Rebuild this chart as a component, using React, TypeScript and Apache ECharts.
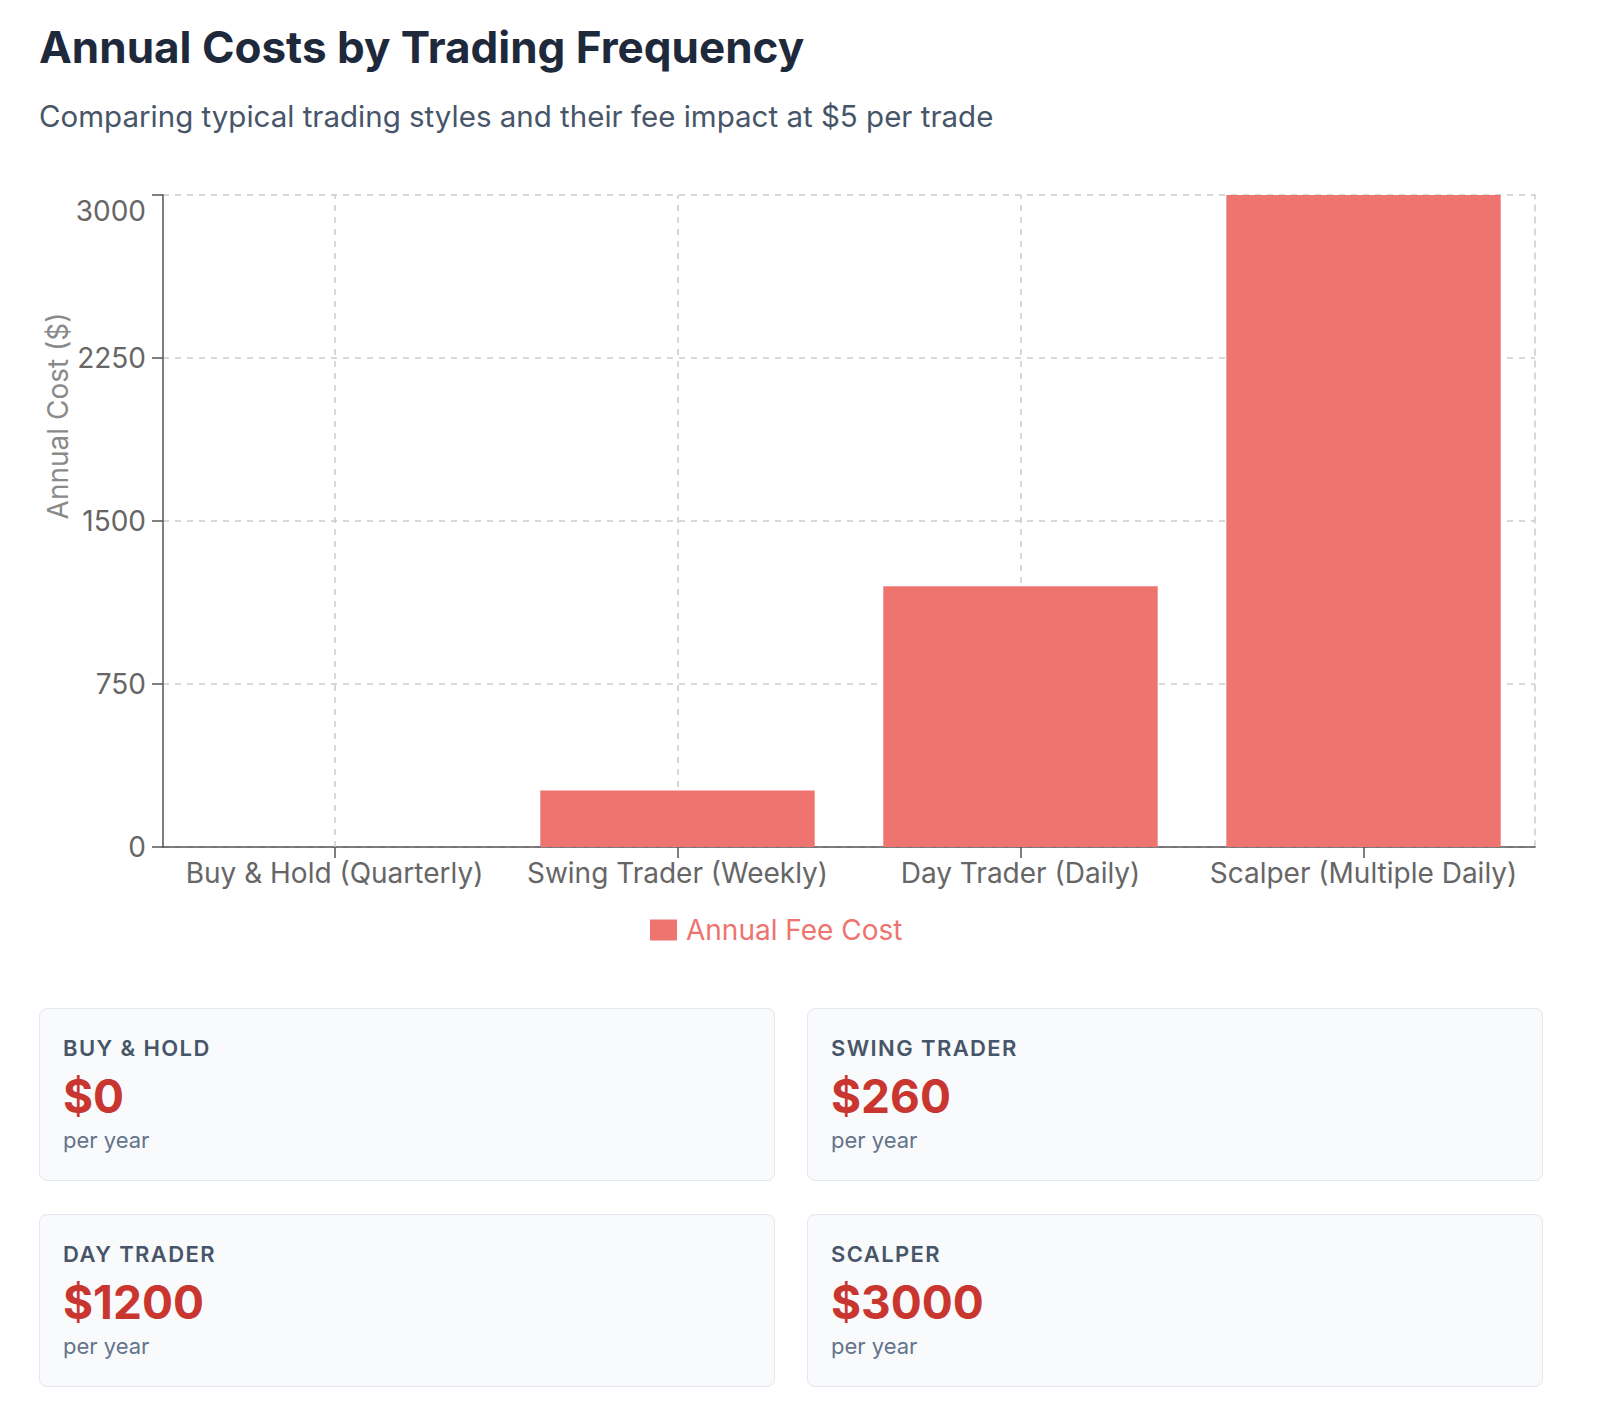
import React, { useEffect, useRef } from "react";
import * as echarts from "echarts";

const categories = [
  "Buy & Hold (Quarterly)",
  "Swing Trader (Weekly)",
  "Day Trader (Daily)",
  "Scalper (Multiple Daily)",
];
const annualCost = [0, 260, 1200, 3000];
const seriesName = "Annual Fee Cost";
const yTicks = { min: 0, max: 3000, interval: 750 };
const cardLabels = ["BUY & HOLD", "SWING TRADER", "DAY TRADER", "SCALPER"];
const cardValues = ["$0", "$260", "$1200", "$3000"];
const cardUnit = "per year";

const BAR = "#ee7470";
const CHART_FONT = 'Inter, "Noto Sans", "Liberation Sans", sans-serif';
const UI_FONT = 'Inter, "Noto Sans", "Liberation Sans", sans-serif';

function Chart() {
  const ref = useRef<HTMLDivElement>(null);
  useEffect(() => {
    if (!ref.current) return;
    const chart = echarts.init(ref.current, null, { renderer: "svg" });
    chart.setOption({
      animation: false,
      textStyle: { fontFamily: CHART_FONT },
      grid: { left: 124, right: 9, top: 35, bottom: 113, containLabel: false },
      legend: {
        data: [seriesName],
        left: 611,
        top: 756,
        padding: 0,
        itemWidth: 27,
        itemHeight: 21,
        icon: "rect",
        textStyle: { color: BAR, fontSize: 28, fontFamily: CHART_FONT, padding: [0, 0, 0, 4] },
      },
      xAxis: {
        type: "category",
        data: categories,
        boundaryGap: true,
        axisLine: { show: true, lineStyle: { color: "#555", width: 1.5 } },
        axisTick: { show: true, alignWithLabel: true, length: 11, lineStyle: { color: "#555", width: 1.5 } },
        axisLabel: { color: "#666", fontSize: 28, margin: 12, interval: 0, fontFamily: CHART_FONT },
        splitLine: { show: false },
      },
      yAxis: [
        {
          type: "value",
          min: yTicks.min,
          max: yTicks.max,
          interval: yTicks.interval,
          axisLine: { show: true, lineStyle: { color: "#555", width: 1.5 } },
          axisTick: { show: true, length: 11, lineStyle: { color: "#555", width: 1.5 } },
          axisLabel: {
            color: "#666",
            fontSize: 28,
            margin: 17,
            fontFamily: CHART_FONT,
            formatter: (v: number) => (v === yTicks.max ? `{top|${v}}` : `${v}`),
            rich: {
              top: { color: "#666", fontSize: 28, fontFamily: CHART_FONT, padding: [32, 0, 0, 0] },
            },
          },
          splitLine: { show: true, lineStyle: { color: "#cccccc", type: [6, 6], width: 1.5 } },
        },
        {
          type: "value",
          position: "right",
          min: yTicks.min,
          max: yTicks.max,
          axisLine: { show: true, lineStyle: { color: "#cccccc", type: [6, 6], width: 1.5 } },
          axisTick: { show: false },
          axisLabel: { show: false },
          splitLine: { show: false },
        },
      ],
      graphic: [
        {
          type: "text",
          x: 19,
          y: 256,
          rotation: Math.PI / 2,
          silent: true,
          style: {
            text: "Annual Cost ($)",
            fill: "#8a8a8a",
            fontSize: 28,
            fontFamily: CHART_FONT,
            textAlign: "center",
            textVerticalAlign: "middle",
          },
        },
      ],
      series: [
        {
          name: "grid-guides",
          type: "line",
          data: annualCost,
          z: 1,
          silent: true,
          symbol: "none",
          lineStyle: { opacity: 0 },
          markLine: {
            z: 1,
            silent: true,
            symbol: ["none", "none"],
            label: { show: false },
            lineStyle: { color: "#cccccc", type: [6, 6], width: 1.5 },
            data: categories.map((c) => ({ xAxis: c })),
          },
        },
        {
          name: seriesName,
          type: "bar",
          data: annualCost,
          z: 3,
          barCategoryGap: "20%",
          itemStyle: { color: BAR },
        },
      ],
    });
    return () => chart.dispose();
  }, []);
  return (
    <div
      ref={ref}
      style={{ position: "absolute", left: 31, top: 152, width: 1505, height: 800 }}
    />
  );
}

function Card({ label, value, left, top }: { label: string; value: string; left: number; top: number }) {
  return (
    <div
      style={{
        position: "absolute",
        left,
        top,
        width: 736,
        height: 173,
        boxSizing: "border-box",
        background: "#f8fafc",
        border: "1.5px solid #e2e8f0",
        borderRadius: 8,
        fontFamily: UI_FONT,
      }}
    >
      <div
        style={{
          position: "absolute",
          left: 23,
          top: 40 - 15 - 1.5,
          lineHeight: "30px",
          fontSize: 22,
          fontWeight: 600,
          letterSpacing: 1.4,
          color: "#475569",
          whiteSpace: "nowrap",
        }}
      >
        {label}
      </div>
      <div
        style={{
          position: "absolute",
          left: 23,
          top: 88 - 28 - 1.5,
          lineHeight: "56px",
          fontSize: 46,
          fontWeight: 700,
          color: "#c9362f",
          whiteSpace: "nowrap",
        }}
      >
        {value}
      </div>
      <div
        style={{
          position: "absolute",
          left: 23,
          top: 132 - 15 - 1.5,
          lineHeight: "30px",
          fontSize: 22,
          fontWeight: 400,
          color: "#64748b",
          whiteSpace: "nowrap",
        }}
      >
        {cardUnit}
      </div>
    </div>
  );
}

export default function App() {
  const positions = [
    { left: 31, top: 1000 },
    { left: 799, top: 1000 },
    { left: 31, top: 1206 },
    { left: 799, top: 1206 },
  ];
  return (
    <div style={{ position: "relative", width: 1584, height: 1400, background: "#fff" }}>
      <div
        style={{
          position: "absolute",
          left: 31,
          top: 13,
          lineHeight: "52px",
          fontSize: 44,
          fontWeight: 700,
          color: "#1e293b",
          fontFamily: UI_FONT,
          whiteSpace: "nowrap",
        }}
      >
        Annual Costs by Trading Frequency
      </div>
      <div
        style={{
          position: "absolute",
          left: 31,
          top: 90,
          lineHeight: "36px",
          fontSize: 29.5,
          fontWeight: 400,
          color: "#475569",
          fontFamily: UI_FONT,
          whiteSpace: "nowrap",
        }}
      >
        Comparing typical trading styles and their fee impact at $5 per trade
      </div>
      <Chart />
      {cardLabels.map((l, i) => (
        <Card key={l} label={l} value={cardValues[i]} left={positions[i].left} top={positions[i].top} />
      ))}
    </div>
  );
}
